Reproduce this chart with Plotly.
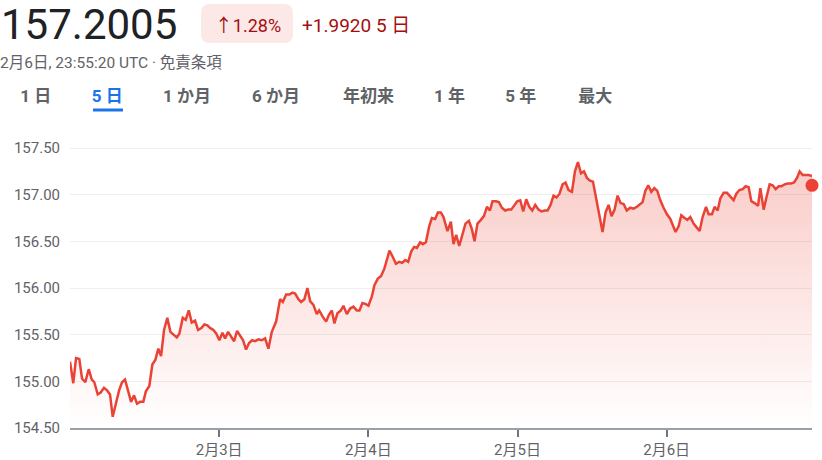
import pandas as pd
import plotly.graph_objects as go

# ---- data ----
base_time = "2026-02-02 00:00"
hours = [0.00, 0.53, 0.97, 1.50, 1.93, 2.46, 3.01, 3.49, 3.91, 4.46, 4.94, 5.47, 6.00, 6.44, 6.87, 7.36, 7.89, 8.37, 8.85, 9.34,
         9.82, 10.30, 10.78, 11.27, 11.80, 12.19, 12.76, 13.25, 13.73, 14.21, 14.65, 15.13, 15.66, 16.15, 16.74, 17.18, 17.59, 18.14, 18.62, 19.11,
         19.59, 20.12, 20.60, 21.14, 21.62, 22.10, 22.58, 23.07, 23.55, 24.03, 24.52, 24.95, 25.43, 25.92, 26.40, 26.88, 27.36, 27.85, 28.33, 28.81,
         29.30, 29.78, 30.31, 30.85, 31.39, 31.92, 32.47, 33.16, 33.80, 34.24, 34.77, 35.30, 35.78, 36.22, 36.75, 37.18, 37.71, 38.20, 38.63, 39.16,
         39.71, 40.08, 40.68, 41.21, 41.64, 42.13, 42.54, 43.03, 43.58, 43.99, 44.54, 45.07, 45.60, 46.15, 46.57, 47.05, 47.53, 48.02, 48.57, 48.98,
         49.53, 50.06, 50.59, 51.40, 51.88, 52.43, 52.96, 53.44, 53.93, 54.41, 54.89, 55.37, 55.81, 56.34, 56.77, 57.26, 57.79, 58.22, 58.75, 59.19,
         59.67, 60.09, 60.73, 61.28, 61.70, 62.13, 62.62, 63.15, 63.63, 64.18, 64.66, 65.08, 65.56, 66.11, 66.59, 67.08, 67.56, 67.98, 68.53, 69.01,
         69.49, 70.02, 70.50, 70.99, 71.47, 71.95, 72.44, 72.92, 73.40, 73.89, 74.37, 74.85, 75.38, 75.87, 76.35, 76.83, 77.31, 77.80, 78.28, 78.76,
         79.25, 79.73, 80.21, 80.76, 81.24, 81.72, 82.21, 82.69, 83.17, 83.66, 84.14, 84.62, 85.15, 85.68, 86.17, 86.65, 87.13, 87.62, 88.10, 88.58,
         89.07, 89.58, 90.14, 90.67, 91.22, 91.75, 92.12, 92.56, 93.04, 93.52, 94.01, 94.49, 94.97, 95.50, 96.05, 96.58, 97.01, 97.43, 97.92, 98.35,
         98.88, 99.32, 99.80, 100.33, 100.82, 101.30, 101.78, 102.33, 102.75, 103.29, 103.71, 104.20, 104.63, 105.16, 105.71, 106.24, 106.77, 107.21, 107.69, 108.22,
         108.70, 109.19, 109.62, 110.15, 110.70, 111.07, 111.60, 112.15, 112.57, 113.05, 113.53, 114.02, 114.45, 114.98, 115.46, 116.01, 116.49, 116.97, 117.39, 117.87,
         118.36, 118.84, 119.38]
prices = [155.21, 154.98, 155.25, 155.24, 155.03, 154.99, 155.13, 155.02, 154.99, 154.86, 154.88, 154.93, 154.90, 154.86, 154.62, 154.77, 154.90, 154.99, 155.02, 154.90,
          154.78, 154.85, 154.76, 154.78, 154.78, 154.89, 154.95, 155.18, 155.23, 155.35, 155.27, 155.55, 155.68, 155.53, 155.50, 155.47, 155.51, 155.68, 155.66, 155.76,
          155.63, 155.65, 155.55, 155.57, 155.61, 155.60, 155.57, 155.55, 155.51, 155.44, 155.52, 155.46, 155.53, 155.48, 155.43, 155.54, 155.49, 155.44, 155.34, 155.41,
          155.44, 155.43, 155.45, 155.44, 155.46, 155.35, 155.53, 155.64, 155.88, 155.85, 155.93, 155.93, 155.95, 155.94, 155.88, 155.85, 155.88, 156.00, 155.86, 155.82,
          155.72, 155.76, 155.69, 155.64, 155.71, 155.76, 155.62, 155.73, 155.76, 155.81, 155.72, 155.78, 155.80, 155.76, 155.76, 155.84, 155.83, 155.81, 155.91, 156.03,
          156.10, 156.13, 156.21, 156.40, 156.34, 156.26, 156.28, 156.27, 156.30, 156.28, 156.39, 156.44, 156.43, 156.49, 156.47, 156.49, 156.66, 156.75, 156.74, 156.81,
          156.81, 156.76, 156.61, 156.71, 156.47, 156.57, 156.45, 156.59, 156.69, 156.72, 156.63, 156.50, 156.69, 156.73, 156.77, 156.87, 156.83, 156.93, 156.93, 156.92,
          156.86, 156.83, 156.84, 156.84, 156.89, 156.93, 156.94, 156.82, 156.95, 156.87, 156.83, 156.89, 156.84, 156.82, 156.83, 156.83, 156.89, 156.99, 156.97, 157.01,
          157.11, 157.13, 157.05, 157.03, 157.25, 157.35, 157.23, 157.25, 157.18, 157.15, 157.14, 156.96, 156.78, 156.60, 156.81, 156.89, 156.77, 156.84, 156.99, 156.91,
          156.90, 156.83, 156.86, 156.85, 156.87, 156.90, 156.92, 157.04, 157.10, 157.03, 157.07, 157.04, 156.94, 156.86, 156.79, 156.74, 156.67, 156.60, 156.66, 156.78,
          156.75, 156.73, 156.76, 156.69, 156.65, 156.61, 156.76, 156.87, 156.79, 156.79, 156.87, 156.83, 156.96, 157.02, 157.02, 156.98, 156.94, 157.01, 157.05, 157.06,
          157.09, 157.08, 156.93, 156.91, 156.88, 157.07, 156.84, 157.00, 157.11, 157.10, 157.06, 157.09, 157.09, 157.11, 157.12, 157.12, 157.13, 157.18, 157.25, 157.21,
          157.21, 157.21, 157.20]
last_dot_price = 157.10

tick_dates = ["2026-02-03", "2026-02-04", "2026-02-05", "2026-02-06"]
tick_labels = ["2月3日", "2月4日", "2月5日", "2月6日"]
y_ticks = [154.5, 155.0, 155.5, 156.0, 156.5, 157.0, 157.5]

headline_price = "157.2005"
change_pct = "↑1.28%"
change_abs = "+1.9920 5 日"
timestamp_text = "2月6日, 23:55:20 UTC · 免責条項"
tabs = ["1 日", "5 日", "1 か月", "6 か月", "年初来", "1 年", "5 年", "最大"]
active_tab = "5 日"

# ---- figure ----
t0 = pd.Timestamp(base_time)
times = t0 + pd.to_timedelta(hours, unit="h")
times = [t.strftime("%Y-%m-%d %H:%M:%S") for t in times]

W, H = 822, 460
# main plot area in figure pixels
PL, PR, PT, PB = 70, 812, 139, 428
Y0 = 154.5
Y1 = Y0 + (PB - PT) / 93.33
RED = "#EA4335"
FONT = "Roboto, Noto Sans CJK JP, sans-serif"

fig = go.Figure()
fig.add_trace(go.Scatter(
    x=times, y=prices, mode="lines",
    line=dict(color=RED, width=2.5),
    fill="tozeroy",
    fillgradient=dict(type="vertical", start=154.5, stop=157.4,
                      colorscale=[[0, "rgba(234,67,53,0.0)"], [1, "rgba(234,67,53,0.28)"]]),
    hoverinfo="skip", showlegend=False,
))
fig.add_trace(go.Scatter(
    x=[times[-1]], y=[last_dot_price], mode="markers",
    marker=dict(color=RED, size=13, line=dict(width=0)),
    hoverinfo="skip", showlegend=False, cliponaxis=False,
))


# header texts live on a full-figure pixel frame (x2/y2)
def text_trace(items, size, color, pos):
    fig.add_trace(go.Scatter(
        x=[p[0] for p in items], y=[p[1] for p in items], text=[p[2] for p in items],
        mode="text", textposition=pos,
        textfont=dict(size=size, color=color, family=FONT),
        xaxis="x2", yaxis="y2", cliponaxis=False, hoverinfo="skip", showlegend=False,
    ))


text_trace([(1, 28, headline_price)], 42, "#202124", "middle right")
text_trace([(248, 27, change_pct)], 18, "#a50e0e", "middle center")
text_trace([(302, 27, change_abs)], 19, "#a50e0e", "middle right")
text_trace([(0, 64, timestamp_text)], 15.5, "#5f6368", "middle right")
tab_centers = [35.8, 107.2, 187, 276, 368.5, 449.5, 520.8, 595.3]
text_trace([(cx, 98, f"<b>{t}</b>") for t, cx in zip(tabs, tab_centers) if t != active_tab], 17, "#5f6368", "middle center")
text_trace([(cx, 98, f"<b>{t}</b>") for t, cx in zip(tabs, tab_centers) if t == active_tab], 17, "#1a73e8", "middle center")

# pill background and active-tab underline
x0, x1, y0, y1, r = 201, 293, 4, 43, 9
path = (f"M {x0+r},{y0} L {x1-r},{y0} Q {x1},{y0} {x1},{y0+r} L {x1},{y1-r} Q {x1},{y1} {x1-r},{y1} "
        f"L {x0+r},{y1} Q {x0},{y1} {x0},{y1-r} L {x0},{y0+r} Q {x0},{y0} {x0+r},{y0} Z")
fig.add_shape(type="path", path=path, xref="x2", yref="y2", fillcolor="#fce8e6", line=dict(width=0), layer="below")
fig.add_shape(type="line", xref="x2", yref="y2", x0=93, x1=123, y0=110, y1=110,
              line=dict(color="#1a73e8", width=3))

fig.update_layout(
    width=W, height=H,
    margin=dict(l=0, r=0, t=0, b=0, pad=0, autoexpand=False),
    paper_bgcolor="white", plot_bgcolor="rgba(0,0,0,0)",
    font=dict(family=FONT, color="#5f6368"),
    xaxis=dict(
        domain=[PL / W, PR / W], anchor="y",
        range=[times[0], times[-1]], automargin=False,
        tickvals=tick_dates, ticktext=tick_labels,
        ticks="outside", ticklen=7, tickwidth=2, tickcolor="#70757a",
        showline=True, linecolor="#9aa0a6", linewidth=1.5,
        showgrid=False, zeroline=False,
        tickfont=dict(size=15, color="#5f6368"),
    ),
    yaxis=dict(
        domain=[(H - PB) / H, (H - PT) / H], anchor="x",
        range=[Y0, Y1], automargin=False,
        tickvals=y_ticks, tickformat=".2f",
        showgrid=True, gridcolor="#efefef", gridwidth=1,
        zeroline=False, showline=False,
        ticks="outside", ticklen=6, tickcolor="rgba(0,0,0,0)",
        tickfont=dict(size=15, color="#5f6368"),
    ),
    xaxis2=dict(domain=[0, 1], anchor="y2", range=[0, W], visible=False, fixedrange=True),
    yaxis2=dict(domain=[0, 1], anchor="x2", range=[H, 0], visible=False, fixedrange=True),
    hovermode=False,
)

fig.write_html("out.html", config={"displayModeBar": False},
               post_script="document.body.style.margin='0px';")
